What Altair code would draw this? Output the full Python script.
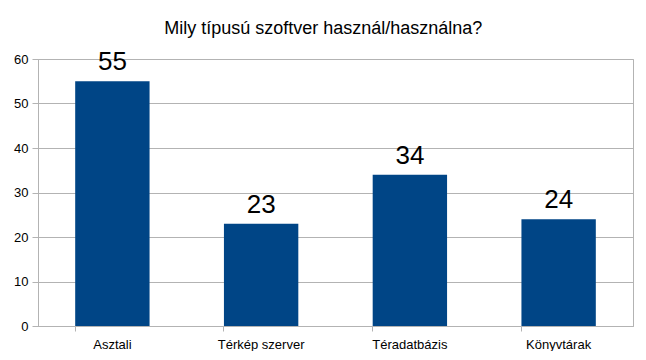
import altair as alt
import pandas as pd

categories = ["Asztali", "Térkép szerver", "Téradatbázis", "Könyvtárak"]
values = [55, 23, 34, 24]
y_ticks = [0, 10, 20, 30, 40, 50, 60]

df = pd.DataFrame({"cat": categories, "val": values})

FONT = "Liberation Sans"
GRID = "#b3b3b3"

base = alt.Chart(df).encode(
    x=alt.X("cat:N", sort=categories,
            scale=alt.Scale(paddingInner=0.5, paddingOuter=0.25),
            axis=alt.Axis(title=None, labelAngle=0, labelFontSize=13, labelFont=FONT,
                          labelColor="#000000", tickColor=GRID, domainColor=GRID,
                          tickSize=5, labelPadding=7, bandPosition=0, grid=False,
                          domainWidth=1, tickWidth=1)),
    y=alt.Y("val:Q", scale=alt.Scale(domain=[0, 60], nice=False),
            axis=alt.Axis(title=None, values=y_ticks, labelFontSize=13, labelFont=FONT,
                          labelColor="#000000", tickColor=GRID, domainColor=GRID,
                          gridColor=GRID, tickSize=6, labelPadding=4,
                          domainWidth=1, tickWidth=1, gridWidth=1)),
)

bars = base.mark_bar(color="#004586")
labels = base.mark_text(fontSize=26, font=FONT, color="#000000",
                        baseline="alphabetic", dy=-11).encode(text="val:Q")

chart = (bars + labels).properties(
    width=595, height=267,
    title=alt.TitleParams("Mily típusú szoftver használ/használna?", fontSize=18,
                          font=FONT, fontWeight="normal", color="#000000",
                          anchor="middle", frame="bounds", offset=11),
    padding={"left": 30, "top": 51, "right": 5, "bottom": 25},
    autosize=alt.AutoSizeParams(type="none"),
).configure_view(stroke=GRID, strokeWidth=1)

chart.save("out.html", embed_options={"renderer": "svg", "actions": False})
